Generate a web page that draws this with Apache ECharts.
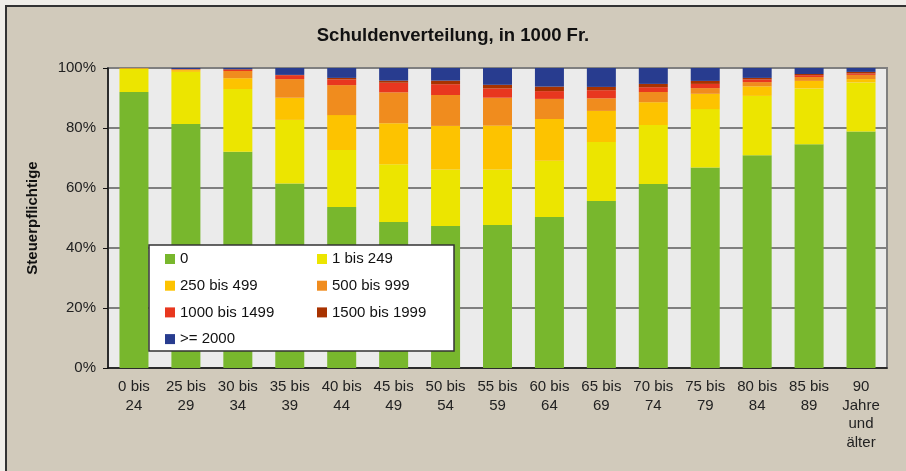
<!DOCTYPE html>
<html>
<head>
<meta charset="utf-8">
<script src="https://cdn.jsdelivr.net/npm/echarts@6/dist/echarts.min.js"></script>
<style>
  body { margin: 0; background: #f0eee9; overflow: hidden; }
  #frame { position: absolute; left: 5px; top: 5px; width: 1000px; height: 600px;
           background: #d1cabb; border: 2px solid #333; }
  #chart { position: absolute; left: 0; top: 0; width: 906px; height: 471px; }
</style>
</head>
<body>
<div id="frame"></div>
<div id="chart"></div>
<script>
// Altersklassen
const categories = [
  "0 bis\n24", "25 bis\n29", "30 bis\n34", "35 bis\n39", "40 bis\n44",
  "45 bis\n49", "50 bis\n54", "55 bis\n59", "60 bis\n64", "65 bis\n69",
  "70 bis\n74", "75 bis\n79", "80 bis\n84", "85 bis\n89", "90\nJahre\nund\nälter"
];
const seriesNames = ["0", "1 bis 249", "250 bis 499", "500 bis 999", "1000 bis 1499", "1500 bis 1999", ">= 2000"];
const seriesColors = ["#78b72d", "#ece500", "#fdc300", "#f08c1e", "#e8371f", "#a83200", "#283c8f"];

// Anteile in %
const s0 = [92.0, 81.3, 72.1, 61.5, 53.7, 48.7, 47.3, 47.7, 50.3, 55.7, 61.3, 66.8, 70.9, 74.6, 78.8];
const s1 = [7.7, 17.4, 20.9, 21.2, 19.0, 19.2, 18.9, 18.5, 18.8, 19.6, 19.7, 19.5, 19.8, 18.6, 16.4];
const s250 = [0.2, 0.6, 3.6, 7.4, 11.6, 13.7, 14.5, 14.6, 13.9, 10.4, 7.6, 5.1, 3.2, 2.5, 1.1];
const s500 = [0.1, 0.2, 2.4, 6.2, 10.0, 10.3, 10.3, 9.3, 6.7, 4.2, 3.4, 1.9, 1.4, 1.3, 1.4];
const s1000 = [0.0, 0.1, 0.4, 1.3, 1.9, 3.2, 3.6, 3.1, 2.6, 2.7, 1.6, 1.4, 0.9, 0.6, 0.5];
const s1500 = [0.0, 0.05, 0.2, 0.1, 0.5, 0.7, 1.2, 1.2, 1.5, 1.1, 1.1, 1.0, 0.5, 0.4, 0.5];
const s2000 = [0.0, 0.35, 0.4, 2.3, 3.3, 4.2, 4.2, 5.6, 6.2, 6.3, 5.3, 4.3, 3.3, 2.0, 1.3];
const seriesData = [s0, s1, s250, s500, s1000, s1500, s2000];

const yTicks = [0, 20, 40, 60, 80, 100];

const font = "Liberation Sans, Arial, sans-serif";
const chart = echarts.init(document.getElementById("chart"));

const legendBase = {
  orient: "vertical",
  top: 251,
  padding: 0,
  itemGap: 10.7,
  itemWidth: 10,
  itemHeight: 10,
  icon: "rect",
  selectedMode: false,
  textStyle: { fontFamily: font, fontSize: 15, color: "#111", lineHeight: 16 },
};

chart.setOption({
  animation: false,
  backgroundColor: "transparent",
  title: {
    text: "Schuldenverteilung, in 1000 Fr.",
    left: "center",
    top: 21,
    textStyle: { fontFamily: font, fontSize: 18.5, fontWeight: "bold", color: "#111" },
  },
  grid: {
    left: 108, right: 19, top: 68, bottom: 103,
    show: true, backgroundColor: "#ebebeb",
    borderColor: "#808080", borderWidth: 2,
  },
  legend: [
    Object.assign({}, legendBase, { left: 165, data: [seriesNames[0], seriesNames[2], seriesNames[4], seriesNames[6]] }),
    Object.assign({}, legendBase, { left: 317, data: [seriesNames[1], seriesNames[3], seriesNames[5]] }),
  ],
  graphic: [{
    type: "rect", z: 3,
    shape: { x: 149, y: 245, width: 305, height: 106 },
    style: { fill: "#fff", stroke: "#333", lineWidth: 1.5 },
  }],
  xAxis: {
    type: "category",
    data: categories,
    axisLine: { lineStyle: { color: "#111", width: 1.5 } },
    axisTick: { length: 5, lineStyle: { color: "#111" } },
    axisLabel: { fontFamily: font, fontSize: 15, color: "#222", lineHeight: 18.5, margin: 10, interval: 0 },
  },
  yAxis: {
    type: "value",
    min: yTicks[0], max: yTicks[yTicks.length - 1], interval: 20,
    name: "Steuerpflichtige",
    nameLocation: "middle",
    nameRotate: 90,
    nameGap: 68,
    nameTextStyle: { fontFamily: font, fontSize: 15, fontWeight: "bold", color: "#111" },
    axisLine: { show: true, lineStyle: { color: "#111", width: 1.5 } },
    axisTick: { show: true, length: 5, lineStyle: { color: "#111" } },
    axisLabel: { formatter: "{value}%", fontFamily: font, fontSize: 15, color: "#222", margin: 12 },
    splitLine: { lineStyle: { color: "#7f7f7f", width: 2 } },
  },
  series: seriesNames.map((name, i) => ({
    name: name,
    type: "bar",
    stack: "total",
    barWidth: 29,
    data: seriesData[i],
    itemStyle: { color: seriesColors[i] },
  })),
});
</script>
</body>
</html>
